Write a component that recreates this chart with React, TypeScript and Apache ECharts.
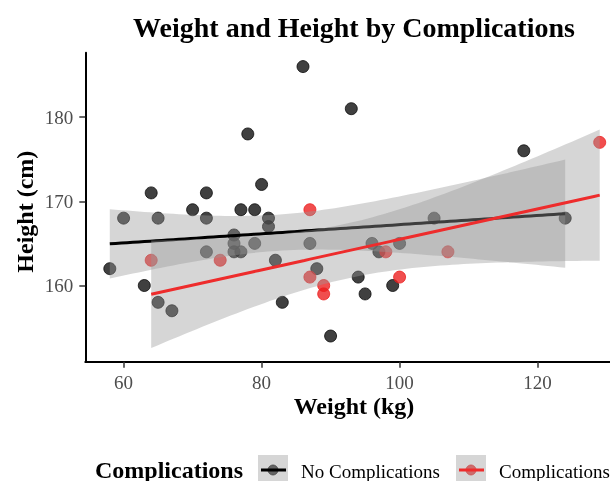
import React, { useEffect, useRef } from 'react';
import * as echarts from 'echarts';

const noCompWeight = [86, 93, 78, 80, 64, 72, 70, 77, 79, 60, 65, 72, 81, 81, 76, 76, 79, 87, 76, 77, 72, 82, 58, 88, 63, 65, 67, 83, 90, 118, 105, 124, 96, 100, 97, 94, 99, 95];
const noCompHeight = [186, 181, 178, 172, 171, 171, 169, 169, 169, 168, 168, 168, 168, 167, 166, 165, 165, 165, 164, 164, 164, 163, 162, 162, 160, 158, 157, 158, 154, 176, 168, 168, 165, 165, 164, 161, 160, 159];
const compWeight = [87, 64, 74, 87, 89, 89, 129, 98, 107, 100];
const compHeight = [169, 163, 163, 161, 160, 159, 177, 164, 164, 161];

const xTicks = [60, 80, 100, 120];
const yTicks = [160, 170, 180];
const groupNames = ['No Complications', 'Complications'];

const FONT = "'Liberation Serif', 'Times New Roman', serif";
const RIBBON = 'rgba(153,153,153,0.4)';

// linear model fit with 95% confidence band (as ggplot geom_smooth(method = "lm"))
function lmBand(xs: number[], ys: number[], tq: number, steps = 80) {
  const n = xs.length;
  const mx = xs.reduce((a, b) => a + b, 0) / n;
  const my = ys.reduce((a, b) => a + b, 0) / n;
  let sxx = 0, sxy = 0;
  for (let i = 0; i < n; i++) {
    sxx += (xs[i] - mx) ** 2;
    sxy += (xs[i] - mx) * (ys[i] - my);
  }
  const b = sxy / sxx;
  const a = my - b * mx;
  let rss = 0;
  for (let i = 0; i < n; i++) rss += (ys[i] - a - b * xs[i]) ** 2;
  const s = Math.sqrt(rss / (n - 2));
  const xmin = Math.min(...xs), xmax = Math.max(...xs);
  const gx: number[] = [], fit: number[] = [], lo: number[] = [], hi: number[] = [];
  for (let i = 0; i < steps; i++) {
    const x = xmin + ((xmax - xmin) * i) / (steps - 1);
    const f = a + b * x;
    const se = s * Math.sqrt(1 / n + (x - mx) ** 2 / sxx);
    gx.push(x); fit.push(f); lo.push(f - tq * se); hi.push(f + tq * se);
  }
  return { gx, fit, lo, hi };
}

export default function App() {
  const ref = useRef<HTMLDivElement>(null);
  useEffect(() => {
    const chart = echarts.init(ref.current!, null, { renderer: 'svg' });
    const bandA = lmBand(noCompWeight, noCompHeight, 2.028);
    const bandB = lmBand(compWeight, compHeight, 2.306);

    const ribbon = (band: any, z: number) => ({
      type: 'custom',
      z,
      silent: true,
      clip: true,
      data: [[band.gx[0], band.fit[0]]],
      renderItem: (_p: any, api: any) => {
        const pts: number[][] = [];
        for (let i = 0; i < band.gx.length; i++) pts.push(api.coord([band.gx[i], band.hi[i]]));
        for (let i = band.gx.length - 1; i >= 0; i--) pts.push(api.coord([band.gx[i], band.lo[i]]));
        return { type: 'polygon', shape: { points: pts }, style: { fill: RIBBON } };
      },
    });
    const fitLine = (band: any, color: string, z: number, name: string) => ({
      type: 'line',
      name,
      z,
      silent: true,
      showSymbol: false,
      data: band.gx.map((x: number, i: number) => [x, band.fit[i]]),
      lineStyle: { color, width: 3 },
    });

    const option: any = {
      animation: false,
      grid: { left: 85.3, top: 52.7, width: 538.9, height: 309, outerBoundsMode: 'none', containLabel: false },
      xAxis: {
        type: 'value',
        min: 54.45,
        max: 132.55,
        axisLine: { show: true, onZero: false, lineStyle: { color: '#000', width: 2 } },
        axisTick: { show: true, length: 6, customValues: xTicks, lineStyle: { color: '#333', width: 1.5 } },
        axisLabel: { customValues: xTicks, color: '#4d4d4d', fontSize: 19, fontFamily: FONT, margin: 21, verticalAlign: 'middle' },
        splitLine: { show: false },
      },
      yAxis: {
        type: 'value',
        min: 150.95,
        max: 187.65,
        axisLine: { show: true, onZero: false, lineStyle: { color: '#000', width: 2 } },
        axisTick: { show: true, length: 6, customValues: yTicks, lineStyle: { color: '#333', width: 1.5 } },
        axisLabel: { customValues: yTicks, color: '#4d4d4d', fontSize: 19, fontFamily: FONT, margin: 12, verticalAlign: 'middle' },
        splitLine: { show: false },
      },
      series: [
        {
          type: 'scatter',
          name: groupNames[0],
          z: 2,
          symbolSize: 12,
          data: noCompWeight.map((w, i) => [w, noCompHeight[i]]),
          itemStyle: { color: 'rgba(0,0,0,0.75)', borderColor: 'rgba(0,0,0,0.75)', borderWidth: 1, opacity: 1 },
        },
        {
          type: 'scatter',
          name: groupNames[1],
          z: 2,
          symbolSize: 12,
          data: compWeight.map((w, i) => [w, compHeight[i]]),
          itemStyle: { color: 'rgba(236,28,28,0.78)', borderColor: 'rgba(236,28,28,0.78)', borderWidth: 1, opacity: 1 },
        },
        ribbon(bandA, 3),
        fitLine(bandA, '#000000', 4, groupNames[0]),
        ribbon(bandB, 5),
        fitLine(bandB, '#EE2C2C', 6, groupNames[1]),
      ],
      graphic: [
        {
          type: 'group',
          z: 100,
          children: [
            { type: 'text', x: 354, y: 27.5, style: { text: 'Weight and Height by Complications', fontSize: 28, fontWeight: 'bold', fontFamily: FONT, fill: '#000', align: 'center', verticalAlign: 'middle' } },
            { type: 'text', x: 354, y: 406, style: { text: 'Weight (kg)', fontSize: 24, fontWeight: 'bold', fontFamily: FONT, fill: '#000', align: 'center', verticalAlign: 'middle' } },
            { type: 'text', x: 25.2, y: 211.7, rotation: Math.PI / 2, style: { text: 'Height (cm)', fontSize: 24, fontWeight: 'bold', fontFamily: FONT, fill: '#000', align: 'center', verticalAlign: 'middle' } },
            { type: 'text', x: 95, y: 470, style: { text: 'Complications', fontSize: 24, fontWeight: 'bold', fontFamily: FONT, fill: '#000', align: 'left', verticalAlign: 'middle' } },
            // key 1
            { type: 'circle', shape: { cx: 273, cy: 470, r: 5 }, style: { fill: 'rgba(0,0,0,0.75)', stroke: 'rgba(0,0,0,0.75)', lineWidth: 1 } },
            { type: 'rect', shape: { x: 258, y: 455, width: 30, height: 30 }, style: { fill: RIBBON } },
            { type: 'line', shape: { x1: 261, y1: 470, x2: 286, y2: 470 }, style: { stroke: '#000', lineWidth: 3 } },
            { type: 'text', x: 301, y: 471, style: { text: groupNames[0], fontSize: 19, fontFamily: FONT, fill: '#000', align: 'left', verticalAlign: 'middle' } },
            // key 2
            { type: 'circle', shape: { cx: 471, cy: 470, r: 5 }, style: { fill: 'rgba(236,28,28,0.78)', stroke: 'rgba(236,28,28,0.78)', lineWidth: 1 } },
            { type: 'rect', shape: { x: 456, y: 455, width: 30, height: 30 }, style: { fill: RIBBON } },
            { type: 'line', shape: { x1: 459, y1: 470, x2: 484, y2: 470 }, style: { stroke: '#EE2C2C', lineWidth: 3 } },
            { type: 'text', x: 499, y: 471, style: { text: groupNames[1], fontSize: 19, fontFamily: FONT, fill: '#000', align: 'left', verticalAlign: 'middle' } },
          ],
        },
      ],
    };
    chart.setOption(option);
    return () => chart.dispose();
  }, []);
  return <div ref={ref} style={{ position: 'fixed', left: 0, top: 0, width: 610, height: 481 }} />;
}
